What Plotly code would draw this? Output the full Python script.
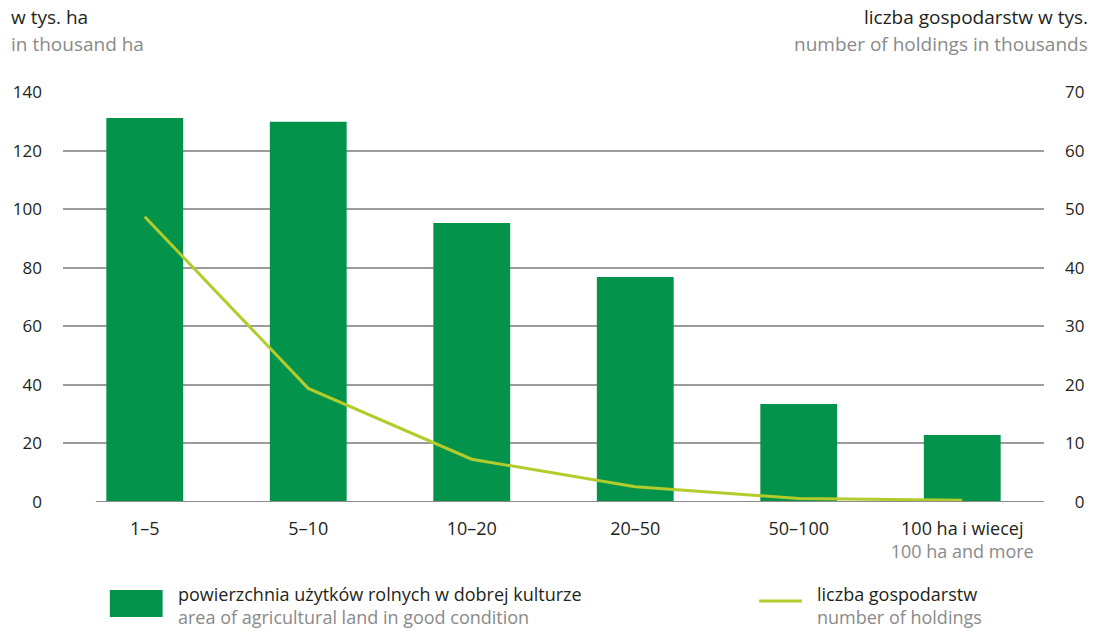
import plotly.graph_objects as go

# Farm size groups (ha)
categories = ["1–5", "5–10", "10–20", "20–50", "50–100", "100 ha i wiecej"]
category_labels = [
    "1–5", "5–10", "10–20", "20–50", "50–100",
    "100 ha i wiecej<br><span style='color:#8a8a8a'>100 ha and more</span>",
]

# Agricultural land in good condition, thousand ha (left axis)
area_thousand_ha = [131.1, 129.8, 95.3, 76.8, 33.5, 22.9]

# Number of holdings, thousands (right axis)
holdings_thousands = [48.7, 19.4, 7.3, 2.6, 0.6, 0.3]

left_ticks = [0, 20, 40, 60, 80, 100, 120, 140]
right_ticks = [0, 10, 20, 30, 40, 50, 60, 70]
# right-hand labels are right-aligned: pad the single digit with a figure space
right_tick_text = ["\u2007" + str(v) if v < 10 else str(v) for v in right_ticks]

BAR_GREEN = "#03934a"
LINE_GREEN = "#b3cc2c"
DARK = "#231f20"
GREY = "#8a8a8a"
FONT = "Open Sans"
FS = 19
FS_NUM = 17

W, H = 1096, 632
ML, MR, MT, MB = 63, 48, 92, 130
PW, PH = W - ML - MR, H - MT - MB


def px(x):
    return (x - ML) / PW


def py(y):
    return (H - MB - y) / PH


fig = go.Figure()
fig.add_trace(go.Bar(
    x=categories, y=area_thousand_ha, marker_color=BAR_GREEN,
    marker_line_width=0, yaxis="y", hoverinfo="y",
))
fig.add_trace(go.Scatter(
    x=categories, y=holdings_thousands, mode="lines", yaxis="y2",
    line=dict(color=LINE_GREEN, width=3), hoverinfo="y",
))

fig.update_layout(
    width=W, height=H, autosize=False,
    margin=dict(l=ML, r=MR, t=MT, b=MB, pad=0),
    paper_bgcolor="white", plot_bgcolor="white",
    showlegend=False, bargap=0.53,
    font=dict(family=FONT, size=FS, color=DARK),
    xaxis=dict(
        type="category", range=[-0.5, 5.5], showgrid=False, zeroline=False,
        showline=False, ticks="", tickvals=categories, ticktext=category_labels,
        tickfont=dict(size=FS - 1, color=DARK), ticklabelstandoff=14,
    ),
    yaxis=dict(
        range=[0, 140], tickvals=left_ticks, showgrid=False, zeroline=False,
        showline=False, ticks="", tickfont=dict(size=FS_NUM, color=DARK),
        ticklabelstandoff=20,
        minor=dict(tickvals=left_ticks[1:], showgrid=True,
                   gridcolor="#9c9c9c", gridwidth=1.5),
    ),
    yaxis2=dict(
        range=[0, 70], tickvals=right_ticks, ticktext=right_tick_text,
        overlaying="y", side="right",
        showgrid=False, zeroline=False, showline=False, ticks="",
        tickfont=dict(size=FS_NUM, color=DARK), ticklabelstandoff=20,
    ),
)

# Baseline at zero, starting just left of the first bar
fig.add_shape(type="line", xref="paper", yref="y", x0=px(96), x1=1,
              y0=0, y1=0, line=dict(color="#8c8c8c", width=2), layer="above")


def label(text, x, y, color=DARK, anchor="left", size=FS, yanchor="middle"):
    fig.add_annotation(text=text, xref="paper", yref="paper", x=px(x), y=py(y),
                       xanchor=anchor, yanchor=yanchor, showarrow=False,
                       align=anchor, borderpad=0,
                       font=dict(family=FONT, size=size, color=color))


def two_lines(first, second):
    return f"{first}<br><span style='color:{GREY}'>{second}</span>"


# Axis titles
label("w tys. ha", 10, 17)
label("in thousand ha", 10, 44, GREY)
label("liczba gospodarstw w tys.", 1093, 17, anchor="right")
label("number of holdings in thousands", 1093, 44, GREY, anchor="right")

# Legend
fig.add_shape(type="rect", xref="paper", yref="paper",
              x0=px(110), x1=px(163), y0=py(617), y1=py(590),
              fillcolor=BAR_GREEN, line_width=0)
label(two_lines("powierzchnia użytków rolnych w dobrej kulturze",
                "area of agricultural land in good condition"),
      177, 581, size=18, yanchor="top")
fig.add_shape(type="line", xref="paper", yref="paper",
              x0=px(762), x1=px(805), y0=py(601), y1=py(601),
              line=dict(color=LINE_GREEN, width=3))
label(two_lines("liczba gospodarstw", "number of holdings"),
      819, 581, size=18, yanchor="top")

fig.write_html("out.html")
